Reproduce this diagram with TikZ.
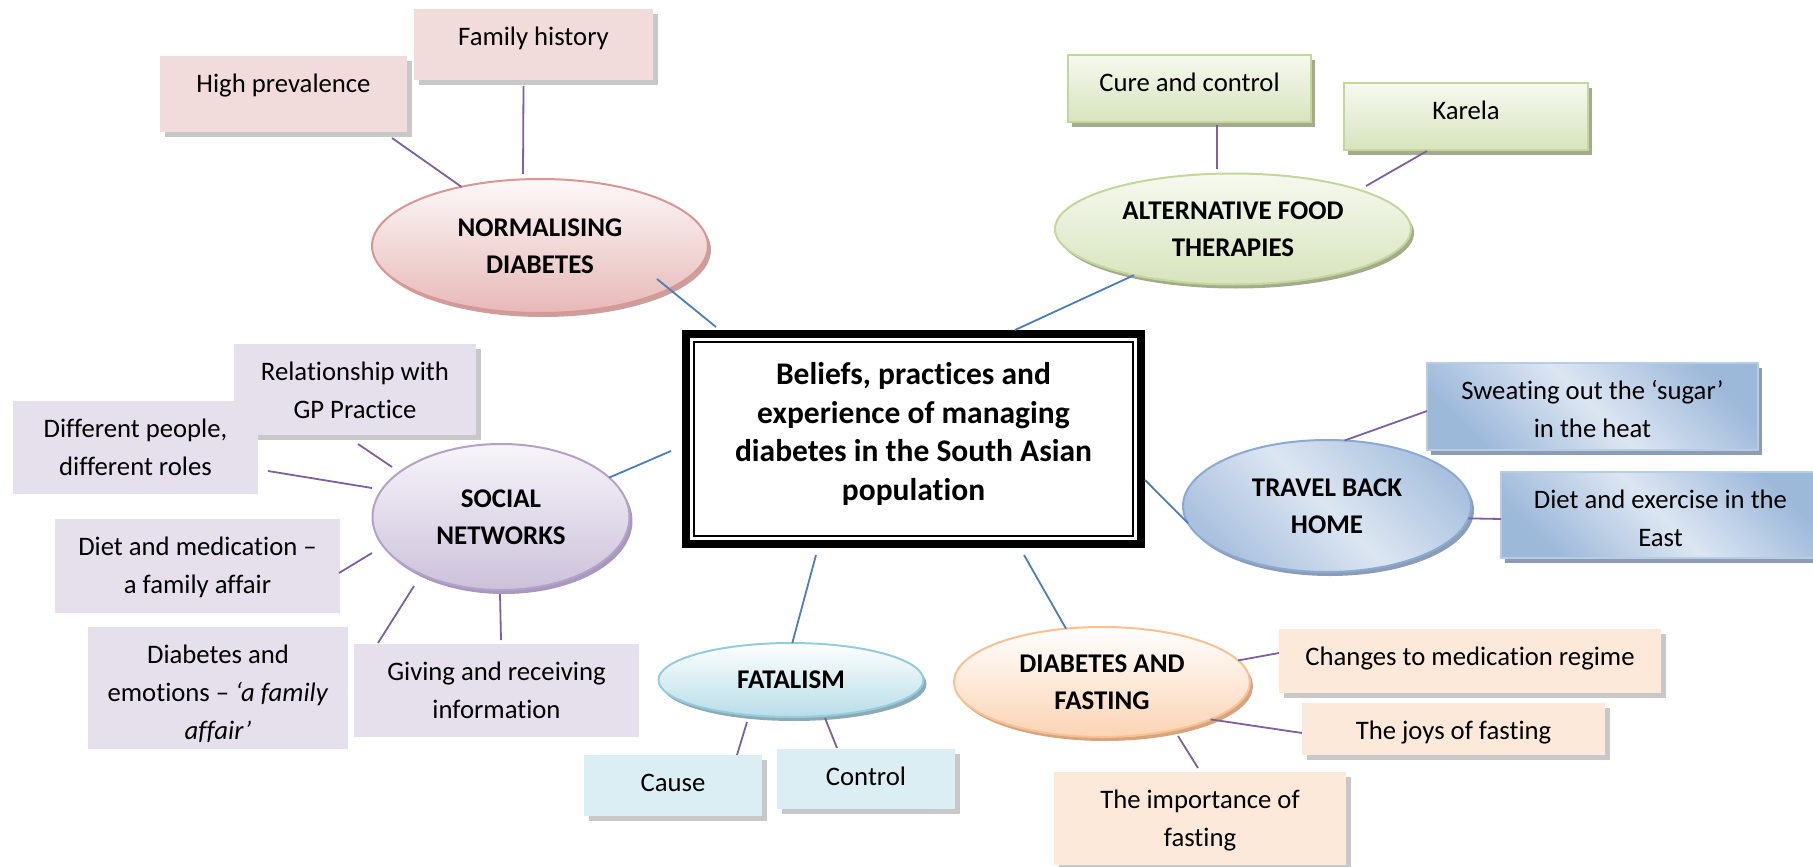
\documentclass[tikz,border=0pt]{standalone}
\usepackage{fontspec}
\setmainfont{Carlito}[Ligatures={TeX,NoCommon}]
\usetikzlibrary{shapes.geometric,shadows}

% palette
\definecolor{pinkF}{HTML}{F2DCDB}
\definecolor{pinkB}{HTML}{E6B9B8}
\definecolor{pinkT}{HTML}{FDF8F8}
\definecolor{pinkD}{HTML}{D99694}
\definecolor{pinkS}{HTML}{C9A09F}
\definecolor{grnF}{HTML}{D7E4BD}
\definecolor{grnT}{HTML}{F6F9EF}
\definecolor{grnD}{HTML}{C3D69B}
\definecolor{grnS}{HTML}{A3AB8C}
\definecolor{purF}{HTML}{E5E0EC}
\definecolor{purB}{HTML}{CCC1DA}
\definecolor{purT}{HTML}{F7F5FA}
\definecolor{purD}{HTML}{B3A2C7}
\definecolor{purS}{HTML}{A899BC}
\definecolor{bluL}{HTML}{DCE6F2}
\definecolor{bluM}{HTML}{9DB9DA}
\definecolor{bluN}{HTML}{A9C1DE}
\definecolor{bluD}{HTML}{8AAAD4}
\definecolor{bluE}{HTML}{B8CCE4}
\definecolor{bluS}{HTML}{8C9CB3}
\definecolor{cyaF}{HTML}{DBEEF4}
\definecolor{cyaB}{HTML}{B7DDE8}
\definecolor{cyaD}{HTML}{93CDDD}
\definecolor{cyaS}{HTML}{8DAAB3}
\definecolor{orgF}{HTML}{FDE9D9}
\definecolor{orgB}{HTML}{FBD4B4}
\definecolor{orgD}{HTML}{FAC090}
\definecolor{orgS}{HTML}{D6A57F}
\definecolor{shd}{HTML}{C8C8C8}
\definecolor{lnP}{HTML}{7D60A0}
\definecolor{lnB}{HTML}{4A7EBB}

% text block of a topic box: width, height, lines (first baseline 36.5pt below the top)
\newcommand\boxlines[3]{\parbox[c][#2pt][t]{#1pt}{\centering\rule{0pt}{36.5pt}#3\par}}

\tikzset{
  every node/.style={outer sep=0pt},
  topicbox/.style={rectangle, inner sep=0pt, anchor=north west,
    font=\fontsize{26.7pt}{37.8pt}\selectfont},
  grayshadow/.style={general shadow={fill=shd, shadow xshift=5pt, shadow yshift=-5pt}},
  pinkbox/.style={topicbox, fill=pinkF, grayshadow},
  grnbox/.style={topicbox, draw=grnD, line width=2.5pt, top color=grnT, bottom color=grnF,
    general shadow={fill=grnS, shadow xshift=4pt, shadow yshift=-5pt}},
  purbox/.style={topicbox, fill=purF},
  purboxs/.style={topicbox, fill=purF, grayshadow},
  blubox/.style={topicbox, draw=bluE, line width=1.5pt, top color=bluM, bottom color=bluM,
    middle color=bluL, shading angle=-45,
    general shadow={fill=bluS, shadow xshift=4pt, shadow yshift=-5pt}},
  cyabox/.style={topicbox, fill=cyaF, grayshadow},
  orgbox/.style={topicbox, fill=orgF, grayshadow},
  theme/.style={ellipse, inner sep=0pt, align=center, line width=2pt,
    font=\bfseries\fontsize{27pt}{37.5pt}\selectfont},
  pinkell/.style={theme, draw=pinkD, top color=pinkT, bottom color=pinkB,
    general shadow={fill=pinkS, shadow xshift=3pt, shadow yshift=-4pt}},
  grnell/.style={theme, draw=grnD, top color=grnT, bottom color=grnF,
    general shadow={fill=grnS, shadow xshift=3pt, shadow yshift=-4pt}},
  purell/.style={theme, draw=purD, top color=purT, bottom color=purB,
    general shadow={fill=purS, shadow xshift=3pt, shadow yshift=-4pt}},
  bluell/.style={theme, draw=bluD, top color=bluN, bottom color=bluN, middle color=bluL,
    shading angle=-45, general shadow={fill=bluS, shadow xshift=3pt, shadow yshift=-4pt}},
  cyaell/.style={theme, draw=cyaD, top color=white, bottom color=cyaB,
    general shadow={fill=cyaS, shadow xshift=3pt, shadow yshift=-4pt}},
  orgell/.style={theme, draw=orgD, top color=white, bottom color=orgB,
    general shadow={fill=orgS, shadow xshift=3pt, shadow yshift=-4pt}},
  purline/.style={draw=lnP, line width=1.8pt},
  bluline/.style={draw=lnB, line width=1.8pt},
}

\begin{document}
\begin{tikzpicture}[x=1pt, y=-1pt]
\useasboundingbox (0,0) rectangle (1813,867);

% ---- central box ----
\node[draw, fill=white, line width=8pt, minimum width=455pt, minimum height=210pt, inner sep=0pt]
  (ctr) at (913.5,439) {};
\draw[line width=2pt] ([shift={(8,8)}]ctr.north west) rectangle ([shift={(-8,-8)}]ctr.south east);
\node[align=center, font=\bfseries\fontsize{31.5pt}{38.4pt}\selectfont] (ctrtext) at (913.5,434)
  {Beliefs, practices and\\experience of managing\\diabetes in the South Asian\\population};

% ---- normalising diabetes ----
\node[pinkbox] (hp) at (160,56) {\boxlines{247}{76}{High prevalence}};
\node[pinkbox] (fh) at (414,9) {\boxlines{239}{71}{Family history}};
\node[pinkell, minimum width=336pt, minimum height=134pt] (norm) at (540,246) {NORMALISING\\DIABETES};

% ---- alternative food therapies ----
\node[grnbox] (cure) at (1068,55) {\boxlines{243}{67}{Cure and control}};
\node[grnbox] (karela) at (1344,83) {\boxlines{244}{67}{Karela}};
\node[grnell, minimum width=356pt, minimum height=111pt] (alt) at (1233,229) {ALTERNATIVE FOOD\\THERAPIES};

% ---- social networks ----
\node[purboxs] (rel) at (234,344) {\boxlines{242}{91}{Relationship with\\GP Practice}};
\node[purbox] (diff) at (13,401) {\boxlines{245}{93}{Different people,\\different roles}};
\node[purbox] (diet) at (55,519) {\boxlines{285}{94}{Diet and medication –\\a family affair}};
\node[purbox] (emot) at (88,627) {\boxlines{260}{122}{Diabetes and\\emotions – \textit{‘a family}\\\textit{affair’}}};
\node[purbox] (giving) at (354,644) {\boxlines{285}{93}{Giving and receiving\\information}};
\node[purell, minimum width=257pt, minimum height=146pt] (social) at (501,517) {SOCIAL\\NETWORKS};

% ---- travel back home ----
\node[blubox] (sweat) at (1427,363) {\boxlines{331}{87}{Sweating out the ‘sugar’\\in the heat}};
\node[blubox] (dexer) at (1501,472) {\boxlines{319}{86}{Diet and exercise in the\\East}};
\node[bluell, minimum width=288pt, minimum height=132pt] (travel) at (1327,506) {TRAVEL BACK\\HOME};

% ---- fatalism ----
\node[cyabox] (cause) at (584,755) {\boxlines{178}{61}{Cause}};
\node[cyabox] (control) at (777,749) {\boxlines{178}{60}{Control}};
\node[cyaell, minimum width=265pt, minimum height=74pt] (fat) at (791,680) {FATALISM};

% ---- diabetes and fasting ----
\node[orgbox] (changes) at (1279,629) {\boxlines{382}{64}{Changes to medication regime}};
\node[orgbox] (joys) at (1302,703) {\boxlines{303}{52}{The joys of fasting}};
\node[orgbox] (import) at (1054,772) {\boxlines{292}{93}{The importance of\\fasting}};
\node[orgell, minimum width=296pt, minimum height=110pt] (fast) at (1102,682) {DIABETES AND\\FASTING};

% ---- links from the centre to the themes ----
\draw[bluline] ([shift={(117,33)}]norm.center) -- ([shift={(30,-7)}]ctr.north west);
\draw[bluline] (social.20) -- ([shift={(-15,12)}]ctr.west);
\draw[bluline] (alt.205) -- ([shift={(101.5,-4)}]ctr.north);
\draw[bluline] ([shift={(4,41)}]ctr.east) -- (travel.187);
\draw[bluline] ([shift={(-97.5,11)}]ctr.south) -- (fat.88);
\draw[bluline] ([shift={(110.5,11)}]ctr.south) -- (fast.124);

% ---- links from the themes to their topics ----
\draw[purline] ([shift={(-15,6)}]hp.south east) -- (norm.143);
\draw[purline] ([shift={(-10,6)}]fh.south) -- ([shift={(-17,-5)}]norm.north);

\draw[purline] ([shift={(27.5,3)}]cure.south) -- ([shift={(-16,-5)}]alt.north);
\draw[purline] ([shift={(-39,1)}]karela.south) -- ([shift={(133,-43)}]alt.center);

\draw[purline] ([shift={(3,9)}]rel.south) -- ([shift={(-109,-50)}]social.center);
\draw[purline] ([shift={(10,23.5)}]diff.east) -- ([shift={(-129,-29)}]social.center);
\draw[purline] ([shift={(-1,7)}]diet.east) -- ([shift={(-129,36)}]social.center);
\draw[purline] ([shift={(30,16)}]emot.north east) -- ([shift={(-87,69)}]social.center);
\draw[purline] ([shift={(4.5,-4)}]giving.north) -- ([shift={(-1,4)}]social.south);

\draw[purline] ([shift={(0,4.5)}]sweat.west) -- (travel.75);
\draw[purline] ([shift={(0,4)}]dexer.west) -- (travel.-5);

\draw[purline] ([shift={(-25,0)}]cause.north east) -- ([shift={(-44,42)}]fat.center);
\draw[purline] ([shift={(60,-1)}]control.north west) -- ([shift={(34,38)}]fat.center);

\draw[purline] ([shift={(0,-8)}]changes.west) -- (fast.9);
\draw[purline] ([shift={(0,4)}]joys.west) -- (fast.-19);
\draw[purline] ([shift={(-2,-4)}]import.north) -- ([shift={(76,54)}]fast.center);
\end{tikzpicture}
\end{document}
